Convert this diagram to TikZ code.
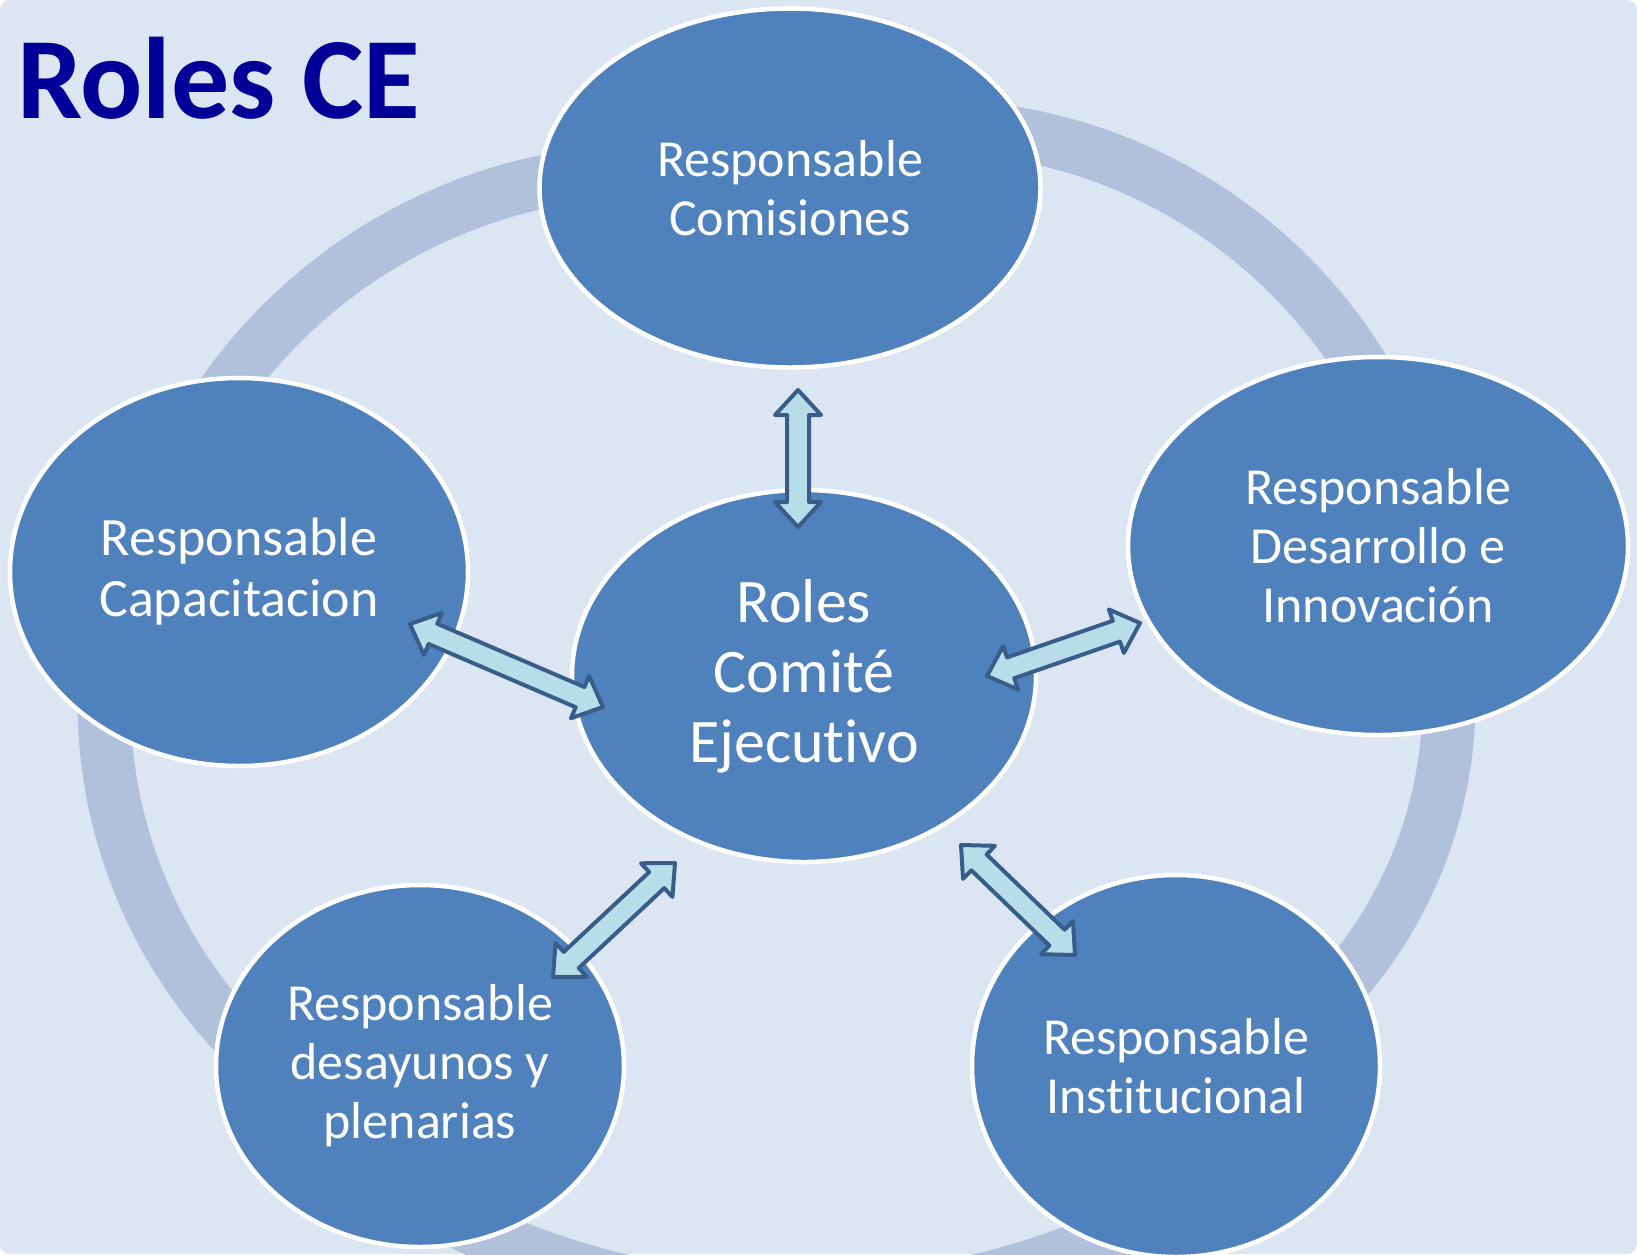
\documentclass[tikz,border=0pt]{standalone}
\usepackage{fontspec}
\setmainfont{Carlito}[Ligatures=NoCommon]
\usetikzlibrary{calc,shapes.geometric}
\definecolor{bgc}{HTML}{DCE6F2}
\definecolor{ringc}{HTML}{B1C1DC}
\definecolor{nodec}{HTML}{4F81BD}
\definecolor{arrfill}{HTML}{B7DEE8}
\definecolor{arrline}{HTML}{385D8A}
\definecolor{titlec}{RGB}{0,0,153}
\tikzset{
  ringarc/.style={draw=ringc, line width=53pt},
  rolenode/.style={ellipse, fill=nodec, draw=white, line width=4.5pt, inner sep=0pt,
    text=white, align=center, font=\fontsize{52}{59}\selectfont},
  blockarrow/.style={fill=arrfill, draw=arrline, line width=4pt, line join=round},
}
\newcommand\dblblock[2]{%
  \coordinate (ba1) at ($(#1)!25pt!(#2)$);
  \coordinate (ba2) at ($(#2)!25pt!(#1)$);
  \draw[blockarrow] (#1) -- ($(ba1)!23pt!90:(#2)$) -- ($(ba1)!11pt!90:(#2)$)
    -- ($(ba2)!11pt!-90:(#1)$) -- ($(ba2)!23pt!-90:(#1)$) -- (#2)
    -- ($(ba2)!23pt!90:(#1)$) -- ($(ba2)!11pt!90:(#1)$)
    -- ($(ba1)!11pt!-90:(#2)$) -- ($(ba1)!23pt!-90:(#2)$) -- cycle;
}
\begin{document}
\begin{tikzpicture}[x=1pt,y=-1pt]
\useasboundingbox (0,0) rectangle (1637,1254);
\fill[white] (0,0) rectangle (1637,1254);
\fill[bgc, rounded corners=10pt] (0,0) rectangle (1637,1254);
% ring arcs (centres of the arc circles)
\coordinate (rtl) at (653,696);
\coordinate (rtr) at (929,636);
\coordinate (rr)  at (1018,700);
\coordinate (rl)  at (590,702);
\coordinate (rb)  at (800,523);
\draw[ringarc] ($(rtl)+(210:526)$) arc[start angle=210, end angle=265, radius=526];
\draw[ringarc] ($(rtr)+(275:510)$) arc[start angle=275, end angle=333, radius=510];
\draw[ringarc] ($(rr)+(-2:431)$) arc[start angle=-2, end angle=45, radius=431];
\draw[ringarc] ($(rl)+(182:486)$) arc[start angle=182, end angle=135, radius=486];
\draw[ringarc] ($(rb)+(123:778)$) arc[start angle=123, end angle=59, radius=778];
% nodes
\node[rolenode, minimum width=501pt, minimum height=359pt] (com) at (790,188) {Responsable\\Comisiones};
\node[rolenode, minimum width=458pt, minimum height=388pt, font=\fontsize{54}{61}\selectfont] (cap) at (239,572) {Responsable\\Capacitacion};
\node[rolenode, minimum width=500pt, minimum height=378pt] (des) at (1378,546) {Responsable\\Desarrollo e\\Innovación};
\node[rolenode, minimum width=408pt, minimum height=362pt] (ple) at (420,1066) {Responsable\\desayunos y\\plenarias};
\node[rolenode, minimum width=408pt, minimum height=382pt] (ins) at (1176,1066) {Responsable\\Institucional};
\node[rolenode, minimum width=464pt, minimum height=372pt, font=\fontsize{62}{70}\selectfont] (ce) at (804,676) {Roles\\Comité\\Ejecutivo};
% arrow tips
\coordinate (t1a) at (798,390);  \coordinate (t1b) at (798,527);
\coordinate (t2a) at (410,624);  \coordinate (t2b) at (603,707);
\coordinate (t3a) at (987,676);  \coordinate (t3b) at (1140,623);
\coordinate (t4a) at (553,977);  \coordinate (t4b) at (675,863);
\coordinate (t5a) at (961,845);  \coordinate (t5b) at (1075,955);
\dblblock{t1a}{t1b}
\dblblock{t2a}{t2b}
\dblblock{t3a}{t3b}
\dblblock{t4a}{t4b}
\dblblock{t5a}{t5b}
% title
\node[anchor=base west, inner sep=0pt, text=titlec, font=\bfseries\fontsize{116}{116}\selectfont] (title) at (17,118) {Roles CE};
\end{tikzpicture}
\end{document}
